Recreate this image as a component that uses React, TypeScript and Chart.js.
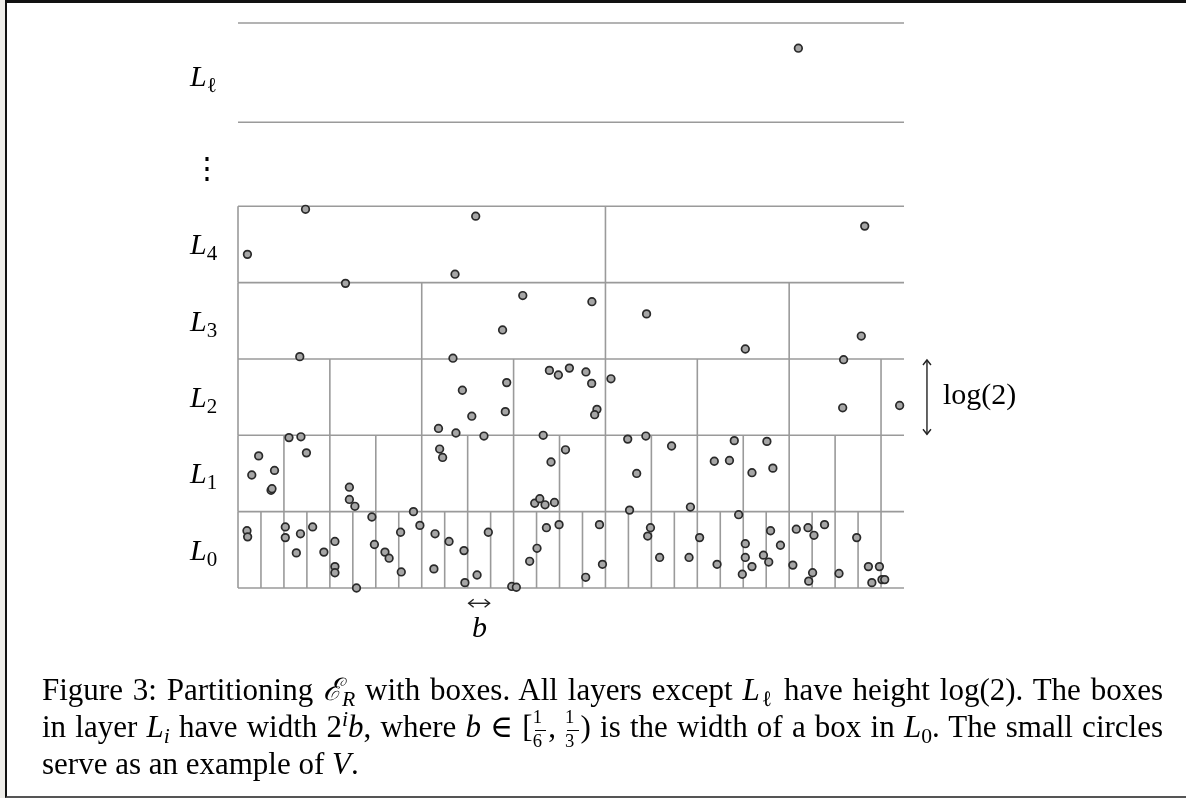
import React, { useEffect, useRef } from "react";
import { Chart, registerables } from "chart.js";

Chart.register(...registerables);

// ---- structure of the partition (units: x in b, y in layer heights) ----
const COLUMNS = 29; // number of L0 boxes across
const LAYER_WIDTHS = [1, 2, 4, 8, 16]; // box width of L0..L4 in units of b
const LAYER_BOUNDS = [0, 1, 2, 3, 4, 5];
const TOP_LAYER_BOUNDS = [6.1, 7.4]; // L_ell band
const Y_MAX = 7.4;
const LOG_ARROW = { x: 30, y0: 2, y1: 3 };
const B_ARROW = { y: -0.2, x0: 10, x1: 11 };

// ---- the set V (small circles), grouped by layer ----
const topLayerPoints = [[24.4, 7.07]];
const layer4Points = [
  [2.94, 4.96], [0.41, 4.37], [9.45, 4.11], [10.35, 4.87], [27.29, 4.74],
];
const layer3Points = [
  [4.68, 3.99], [12.4, 3.83], [15.41, 3.75], [17.79, 3.59], [11.52, 3.38],
  [22.09, 3.13], [27.14, 3.3],
];
const layer2Points = [
  [2.69, 3.03], [9.36, 3.01], [9.77, 2.59], [10.18, 2.25], [8.73, 2.09],
  [9.49, 2.03], [10.71, 1.99], [11.64, 2.31], [11.7, 2.69], [13.56, 2.85],
  [13.95, 2.79], [14.43, 2.88], [15.15, 2.83], [15.4, 2.68], [16.24, 2.74],
  [15.63, 2.34], [15.53, 2.27], [13.29, 2.0], [26.37, 2.99], [26.33, 2.36],
  [28.81, 2.39],
];
const layer1Points = [
  [2.22, 1.97], [2.74, 1.98], [0.9, 1.73], [2.98, 1.77], [0.6, 1.48],
  [1.59, 1.54], [1.44, 1.28], [1.48, 1.3], [4.85, 1.32], [4.85, 1.16],
  [5.09, 1.07], [8.78, 1.82], [8.91, 1.71], [14.26, 1.81], [13.63, 1.65],
  [12.92, 1.11], [13.14, 1.17], [13.37, 1.09], [13.78, 1.12], [16.97, 1.95],
  [17.76, 1.99], [18.88, 1.86], [17.36, 1.5], [17.05, 1.02], [19.7, 1.06],
  [20.74, 1.66], [21.4, 1.67], [21.61, 1.93], [23.03, 1.92], [22.38, 1.51],
  [23.29, 1.57],
];
const layer0Points = [
  [21.8, 0.96], [7.64, 1.0], [0.39, 0.75], [0.42, 0.67], [2.06, 0.8],
  [2.06, 0.66], [2.72, 0.71], [3.25, 0.8], [2.54, 0.46], [3.74, 0.47],
  [4.22, 0.61], [4.22, 0.28], [4.22, 0.2], [5.16, 0.0], [5.83, 0.93],
  [5.94, 0.57], [6.4, 0.47], [6.58, 0.39], [7.08, 0.73], [7.11, 0.21],
  [7.92, 0.82], [8.58, 0.71], [8.53, 0.25], [9.19, 0.61], [9.84, 0.49],
  [9.88, 0.07], [10.41, 0.17], [10.9, 0.73], [11.92, 0.02], [12.12, 0.01],
  [12.7, 0.35], [13.02, 0.52], [13.43, 0.79], [13.98, 0.83], [15.14, 0.14],
  [15.74, 0.83], [15.87, 0.31], [17.96, 0.79], [17.84, 0.68], [18.36, 0.4],
  [19.64, 0.4], [20.1, 0.66], [20.86, 0.31], [22.09, 0.58], [22.09, 0.4],
  [22.38, 0.28], [21.96, 0.18], [22.88, 0.43], [23.11, 0.34], [23.19, 0.75],
  [23.62, 0.56], [24.16, 0.3], [24.31, 0.77], [24.82, 0.79], [25.08, 0.69],
  [25.54, 0.83], [25.02, 0.2], [24.85, 0.09], [26.17, 0.19], [26.94, 0.66],
  [27.45, 0.28], [27.93, 0.28], [27.6, 0.07], [28.04, 0.11], [28.16, 0.11],
];

const layerLabels = ["0", "1", "2", "3", "4"];

// ---- styling ----
const W = 1186;
const H = 798;
const PAD = { left: 238, right: 282, top: 23, bottom: 210 };
const GRID_COLOR = "#9a9a9a";
const ARROW_COLOR = "#222";
const SERIF = '"Liberation Serif", "DejaVu Serif", serif';
const FS = 30; // label text size
const CFS = 31; // caption text size

function arrowHead(ctx: CanvasRenderingContext2D, x: number, y: number, dx: number, dy: number) {
  const s = 5;
  const px = -dy, py = dx;
  ctx.beginPath();
  ctx.moveTo(x - dx * s + px * s * 0.8, y - dy * s + py * s * 0.8);
  ctx.lineTo(x, y);
  ctx.lineTo(x - dx * s - px * s * 0.8, y - dy * s - py * s * 0.8);
  ctx.stroke();
}

const boxesPlugin = {
  id: "boxes",
  beforeDatasetsDraw(chart: any) {
    const { ctx } = chart;
    const xs = chart.scales.x;
    const ys = chart.scales.y;
    ctx.save();
    ctx.strokeStyle = GRID_COLOR;
    ctx.lineWidth = 1.6;
    const hline = (v: number) => {
      const py = ys.getPixelForValue(v);
      ctx.beginPath();
      ctx.moveTo(xs.getPixelForValue(0), py);
      ctx.lineTo(xs.getPixelForValue(COLUMNS), py);
      ctx.stroke();
    };
    LAYER_BOUNDS.forEach(hline);
    TOP_LAYER_BOUNDS.forEach(hline);
    LAYER_WIDTHS.forEach((w, i) => {
      for (let c = 0; c < COLUMNS; c += w) {
        const px = xs.getPixelForValue(c);
        ctx.beginPath();
        ctx.moveTo(px, ys.getPixelForValue(LAYER_BOUNDS[i]));
        ctx.lineTo(px, ys.getPixelForValue(LAYER_BOUNDS[i + 1]));
        ctx.stroke();
      }
    });
    ctx.restore();
  },
  afterDatasetsDraw(chart: any) {
    const { ctx } = chart;
    const xs = chart.scales.x;
    const ys = chart.scales.y;
    ctx.save();
    ctx.strokeStyle = ARROW_COLOR;
    ctx.lineWidth = 1.4;
    const ax = xs.getPixelForValue(LOG_ARROW.x);
    const ay0 = ys.getPixelForValue(LOG_ARROW.y0) - 1;
    const ay1 = ys.getPixelForValue(LOG_ARROW.y1) + 1;
    ctx.beginPath();
    ctx.moveTo(ax, ay0);
    ctx.lineTo(ax, ay1);
    ctx.stroke();
    arrowHead(ctx, ax, ay1, 0, -1);
    arrowHead(ctx, ax, ay0, 0, 1);
    const by = ys.getPixelForValue(B_ARROW.y);
    const bx0 = xs.getPixelForValue(B_ARROW.x0) + 1;
    const bx1 = xs.getPixelForValue(B_ARROW.x1) - 1;
    ctx.beginPath();
    ctx.moveTo(bx0, by);
    ctx.lineTo(bx1, by);
    ctx.stroke();
    arrowHead(ctx, bx0, by, -1, 0);
    arrowHead(ctx, bx1, by, 1, 0);
    ctx.restore();
  },
};

const Sub = ({ children, italic }: any) => (
  <span style={{ fontSize: "0.7em", position: "relative", top: "0.28em", fontStyle: italic ? "italic" : "normal" }}>
    {children}
  </span>
);

const Frac = ({ n, d }: any) => (
  <span style={{ display: "inline-block", position: "relative", width: CFS * 0.5, height: CFS * 0.6, verticalAlign: "baseline" }}>
    <span style={{ position: "absolute", left: 0, right: 0, top: -CFS * 0.34, fontSize: CFS * 0.6, lineHeight: 1, textAlign: "center" }}>{n}</span>
    <span style={{ position: "absolute", left: 2, right: 2, top: CFS * 0.36, borderTop: "1px solid #000" }} />
    <span style={{ position: "absolute", left: 0, right: 0, top: CFS * 0.43, fontSize: CFS * 0.6, lineHeight: 1, textAlign: "center" }}>{d}</span>
  </span>
);

const BASE_OFF = 28; // baseline offset of a 30px/36px line box

const LayerLabel = ({ sub, subItalic, baseline }: any) => (
  <div style={{ position: "absolute", left: 190, top: baseline - BASE_OFF, font: `italic ${FS}px ${SERIF}`, lineHeight: "36px", whiteSpace: "nowrap", color: "#000" }}>
    L<Sub italic={subItalic}>{sub}</Sub>
  </div>
);

export default function App() {
  const canvasRef = useRef<HTMLCanvasElement | null>(null);

  useEffect(() => {
    if (!canvasRef.current) return;
    const all = [
      ...topLayerPoints, ...layer4Points, ...layer3Points,
      ...layer2Points, ...layer1Points, ...layer0Points,
    ];
    const chart = new Chart(canvasRef.current, {
      type: "scatter",
      data: {
        datasets: [
          {
            data: all.map(([x, y]) => ({ x, y })),
            pointRadius: 3.8,
            pointBackgroundColor: "#a6a6a6",
            pointBorderColor: "#2a2a2a",
            pointBorderWidth: 1.7,
            clip: false as any,
          },
        ],
      },
      options: {
        responsive: false,
        animation: false,
        events: [],
        layout: { padding: PAD },
        scales: {
          x: { type: "linear", min: 0, max: COLUMNS, display: false },
          y: { type: "linear", min: 0, max: Y_MAX, display: false },
        },
        plugins: { legend: { display: false }, tooltip: { enabled: false }, title: { display: false } },
      },
      plugins: [boxesPlugin],
    });
    return () => chart.destroy();
  }, []);

  const layerPx = (H - PAD.bottom - PAD.top) / Y_MAX;
  const bottomPx = H - PAD.bottom;

  const capLine: any = {
    position: "absolute",
    left: 42,
    width: 1121,
    font: `${CFS}px ${SERIF}`,
    lineHeight: "36px",
    color: "#000",
  };

  return (
    <div style={{ position: "absolute", left: 0, top: 0, width: W, height: H, background: "#eeede9", overflow: "hidden" }}>
      <div style={{ position: "absolute", left: 5, top: 0, width: W - 5, height: H, background: "#fff", boxSizing: "border-box", borderLeft: "2px solid #111", borderTop: "3px solid #111", borderBottom: "2px solid #555" }} />
      <canvas ref={canvasRef} width={W} height={H} style={{ position: "absolute", left: 0, top: 0, width: W, height: H }} />

      {layerLabels.map((s, i) => (
        <LayerLabel key={s} sub={s} baseline={bottomPx - (i + 0.5) * layerPx + 10} />
      ))}
      <LayerLabel sub="ℓ" baseline={86} />
      <div style={{ position: "absolute", left: 192, top: 150, font: `${FS}px "DejaVu Serif", serif`, lineHeight: "36px" }}>⋮</div>

      <div style={{ position: "absolute", left: 943, top: 404 - BASE_OFF, font: `${FS}px ${SERIF}`, lineHeight: "36px", whiteSpace: "nowrap" }}>log(2)</div>
      <div style={{ position: "absolute", left: 472, top: 637 - BASE_OFF, font: `italic ${FS}px ${SERIF}`, lineHeight: "36px" }}>b</div>

      <div style={{ ...capLine, top: 700 - BASE_OFF, textAlign: "justify", textAlignLast: "justify" }}>
        Figure 3: Partitioning <i>ℰ</i><Sub italic>R</Sub> with boxes. All layers except <i>L</i><Sub>ℓ</Sub> have height log(2). The boxes
      </div>
      <div style={{ ...capLine, top: 737 - BASE_OFF, textAlign: "justify", textAlignLast: "justify" }}>
        in layer <i>L</i><Sub italic>i</Sub> have width 2<span style={{ fontSize: "0.7em", position: "relative", top: "-0.5em", fontStyle: "italic" }}>i</span><i>b</i>, where <i>b</i> ∈ [<Frac n="1" d="6" />, <Frac n="1" d="3" />) is the width of a box in <i>L</i><Sub>0</Sub>. The small circles
      </div>
      <div style={{ ...capLine, top: 774 - BASE_OFF }}>
        serve as an example of <i>V</i>.
      </div>
    </div>
  );
}
